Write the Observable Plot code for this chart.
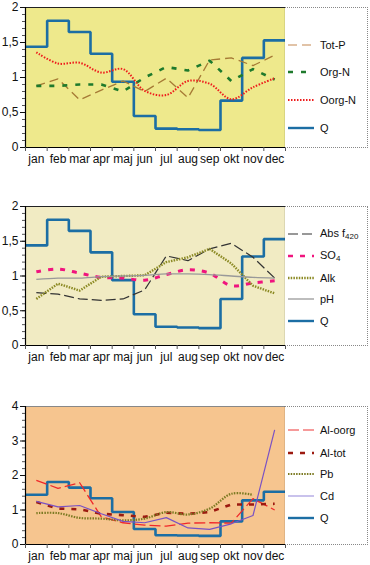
<!DOCTYPE html>
<html><head><meta charset="utf-8">
<script src="https://cdn.jsdelivr.net/npm/d3@7"></script>
<script src="https://cdn.jsdelivr.net/npm/@observablehq/plot@0.6"></script>
<style>
body{margin:0;background:#fff;font-family:"Liberation Sans",Arial,sans-serif;}
#wrap{position:relative;width:370px;height:565px;overflow:hidden;}
.panel{position:absolute;left:0;}
.legend{position:absolute;left:285px;width:83px;border:1px dotted #888;border-left:none;box-sizing:border-box;background:#fff;}
.item{position:absolute;left:3px;height:14px;display:flex;align-items:center;font-size:11px;color:#111;white-space:nowrap;}
.item svg{margin-right:6px;}
sub{font-size:8px;vertical-align:-2px;}
</style></head><body><div id="wrap"></div>
<script>
const months = ["jan","feb","mar","apr","maj","jun","jul","aug","sep","okt","nov","dec"];
const Q      = [1.44,1.81,1.65,1.34,0.94,0.45,0.27,0.26,0.25,0.67,1.28,1.53];
// panel 1
const totP   = [0.88,0.98,0.68,0.82,0.95,0.80,0.99,0.71,1.25,1.28,1.17,1.32];
const orgN   = [0.88,0.88,0.90,0.90,0.80,1.00,1.15,1.10,1.24,0.95,1.12,0.97];
const oorgN  = [1.36,1.20,1.21,1.07,1.12,0.81,0.75,0.95,0.91,0.69,0.86,0.99];
// panel 2
const absF   = [0.76,0.74,0.67,0.65,0.67,0.80,1.29,1.22,1.39,1.47,1.27,0.97];
const so4    = [1.06,1.10,1.04,0.98,0.97,0.94,1.02,1.09,1.04,0.86,0.90,0.93];
const alk    = [0.67,0.89,0.79,0.99,1.00,1.01,1.20,1.27,1.39,1.18,0.86,0.75];
const pH     = [0.95,0.97,0.97,0.99,1.00,1.01,1.03,1.03,1.02,1.00,0.98,0.97];
// panel 3
const alOorg = [1.86,1.63,1.79,0.80,0.63,0.56,0.53,0.62,0.63,0.62,1.33,1.00];
const alTot  = [1.23,1.04,1.02,0.89,0.85,0.80,0.92,0.89,0.94,1.16,1.16,1.18];
const pb     = [0.91,0.91,0.77,0.75,0.70,0.75,0.94,0.87,1.04,1.47,1.44,null];
const cd     = [1.25,1.09,1.13,0.89,0.67,0.63,0.78,0.48,0.44,0.60,0.84,3.32];

const QS = {name:"Q", values:Q, color:"#1c6ea4", width:2.6, dash:null, step:true};

const panels = [
  {top:0, ymax:2, major:0.5, minor:0.1, bg:"#eee98c", h:170, mb:23,
   frameTop:"#222",
   series:[
    {name:"Tot-P", values:totP, color:"#a67a35", width:1.3, dash:"9,5", lcolor:"#d8b08a"},
    {name:"Org-N", values:orgN, color:"#1e7a2c", width:2.6, dash:"5,8"},
    {name:"Oorg-N", values:oorgN, color:"#ee1c1c", width:2, dash:"1.5,1.5", curve:"catmull-rom"},
    QS], legY:[30,57,85,113]},
  {top:199, ymax:2, major:0.5, minor:0.1, bg:"#f1ebc3", h:170, mb:24,
   frameTop:"#222",
   series:[
    {name:"Abs f<sub>420</sub>", values:absF, color:"#333", width:1.2, dash:"10,4"},
    {name:"SO<sub>4</sub>", values:so4, color:"#f0147e", width:3, dash:"5,7", curve:"catmull-rom"},
    {name:"Alk", values:alk, color:"#8c8a24", width:2.4, dash:"1.5,1.2"},
    {name:"pH", values:pH, color:"#999", width:1.3, dash:null, curve:"catmull-rom"},
    QS], legY:[20,42,64,85,107]},
  {top:399, ymax:4, major:1, minor:0.2, bg:"#f6c58f", h:166, mb:21,
   frameTop:"#888",
   series:[
    {name:"Al-oorg", values:alOorg, color:"#f0282a", width:1.3, dash:"11,4", lcolor:"#f47a7a"},
    {name:"Al-tot", values:alTot, color:"#9c1a10", width:2.6, dash:"5,7"},
    {name:"Pb", values:pb, color:"#7c7a22", width:2.2, dash:"1.5,1.2", curve:"catmull-rom"},
    {name:"Cd", values:cd, color:"#7a52c4", width:1.2, dash:null, lcolor:"#a59ae0"},
    QS], legY:[16,39,60,82,104]}
];

const wrap = document.getElementById("wrap");
const eps = 1e-9;

for (const p of panels) {
  const marks = [Plot.frame({fill:p.bg, stroke:null})];
  for (const s of p.series) {
    if (s.step) {
      const data = s.values.map((v,i)=>({x:i, y:v}));
      data.push({x:12, y:s.values[11]});
      marks.push(Plot.line(data, {x:"x", y:"y", curve:"step-after", stroke:s.color, strokeWidth:s.width, strokeLinecap:"butt", strokeLinejoin:"miter"}));
    }
  }
  for (const s of p.series) {
    if (!s.step) {
      const data = s.values.map((v,i)=>({x:i+0.5, y:v})).filter(d=>d.y!=null);
      marks.push(Plot.line(data, {x:"x", y:"y", curve:s.curve||"linear", stroke:s.color, strokeWidth:s.width, strokeDasharray:s.dash||undefined, strokeLinecap:"butt"}));
    }
  }
  marks.push(Plot.ruleY([p.ymax], {stroke:p.frameTop, strokeWidth:1.2}));
  marks.push(Plot.ruleX([12], {stroke:"#222", strokeWidth:1.2}));
  marks.push(Plot.ruleX([0], {stroke:"#000", strokeWidth:1.2}));
  marks.push(Plot.ruleY([0], {stroke:"#000", strokeWidth:1.2}));
  marks.push(Plot.axisY({ticks:d3.range(0, p.ymax+eps, p.minor), tickSize:3, tickFormat:()=>"", label:null, stroke:"#555"}));
  marks.push(Plot.axisY({ticks:d3.range(0, p.ymax+eps, p.major), tickSize:5, tickPadding:2, tickFormat:d=>String(+d.toFixed(2)).replace(".",","), label:null, fontSize:12}));
  marks.push(Plot.axisX({ticks:d3.range(0,13), tickSize:4, tickFormat:()=>"", label:null, stroke:"#555"}));
  marks.push(Plot.axisX({ticks:d3.range(12).map(i=>i+0.5), tickSize:0, tickPadding:7, tickFormat:d=>months[Math.floor(d)], label:null, fontSize:12}));

  const svg = Plot.plot({
    width:370, height:p.h,
    marginLeft:25, marginRight:85, marginTop:7, marginBottom:p.mb,
    style:{fontFamily:"'Liberation Sans', Arial, sans-serif", fontSize:"12px", color:"#111", background:"transparent"},
    x:{domain:[0,12]},
    y:{domain:[0,p.ymax]},
    marks
  });
  svg.classList.add("panel");
  svg.style.top = p.top + "px";
  wrap.appendChild(svg);

  const plotH = p.h - 7 - p.mb;
  const leg = document.createElement("div");
  leg.className = "legend";
  leg.style.top = (p.top + 7) + "px";
  leg.style.height = (plotH + 1) + "px";
  p.series.forEach((s, k) => {
    const it = document.createElement("div");
    it.className = "item";
    it.style.top = (p.legY[k]) + "px";
    const col = s.lcolor || s.color;
    it.innerHTML = `<svg width="26" height="6"><line x1="0" x2="26" y1="3" y2="3" stroke="${col}" stroke-width="${Math.min(s.width,2.4)}" ${s.dash?`stroke-dasharray="${s.dash}"`:""}/></svg><span>${s.name}</span>`;
    leg.appendChild(it);
  });
  wrap.appendChild(leg);
}
</script></body></html>
